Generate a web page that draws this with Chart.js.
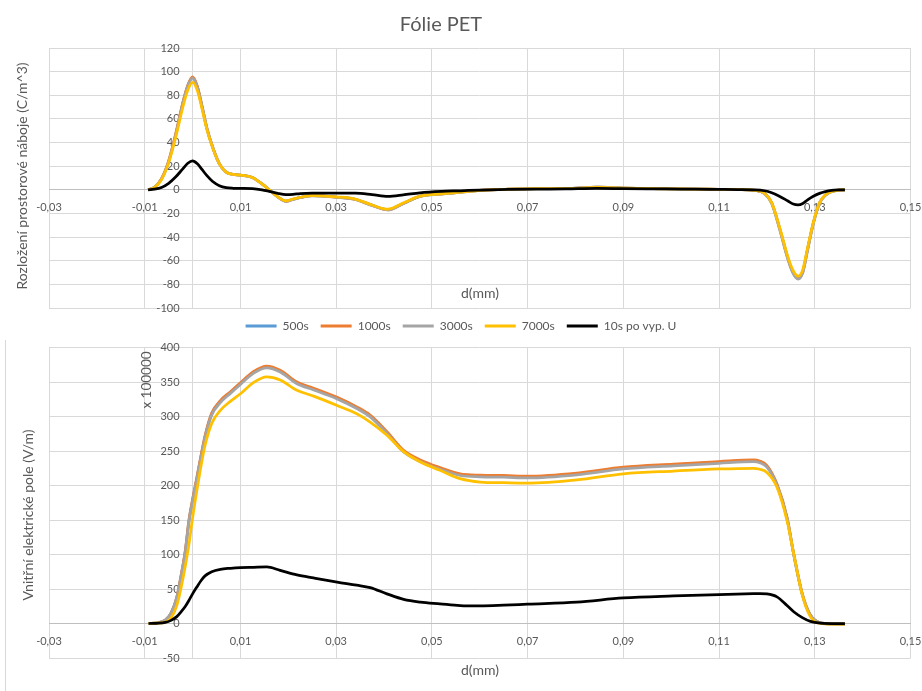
<!DOCTYPE html>
<html>
<head>
<meta charset="utf-8">
<title>Fólie PET</title>
<script src="https://cdn.jsdelivr.net/npm/chart.js@4/dist/chart.umd.min.js"></script>
<style>
  html, body { margin: 0; padding: 0; background: #ffffff; }
  #wrap { position: relative; width: 922px; height: 691px; overflow: hidden; background: #ffffff; }
  #wrap canvas { position: absolute; left: 0; }
  #rhoChart { top: 0; }
  #fieldChart { top: 340px; }
</style>
</head>
<body>
<div id="wrap">
  <canvas id="rhoChart" width="922" height="342"></canvas>
  <canvas id="fieldChart" width="922" height="351"></canvas>
</div>
<script>
// Series names and colours
const SERIES = ['500s', '1000s', '3000s', '7000s', '10s po vyp. U'];
const COLORS = ['#5B9BD5', '#ED7D31', '#A5A5A5', '#FFC000', '#000000'];

// Shared depth axis (mm)
const X_TICKS = [-0.03, -0.01, 0.01, 0.03, 0.05, 0.07, 0.09, 0.11, 0.13, 0.15];
const X_TICK_LABELS = ['-0,03', '-0,01', '0,01', '0,03', '0,05', '0,07', '0,09', '0,11', '0,13', '0,15'];

// Space charge density (C/m^3)
const RHO_TICKS = [-100, -80, -60, -40, -20, 0, 20, 40, 60, 80, 100, 120];
const RHO_X = [-0.0093, -0.008, -0.0065, -0.005, -0.0035, -0.002, -0.001, 0, 0.001, 0.002,
  0.003, 0.0042, 0.0056, 0.007, 0.0085, 0.01, 0.0125, 0.0145, 0.016, 0.0178,
  0.0195, 0.021, 0.0225, 0.025, 0.03, 0.034, 0.0375, 0.0408, 0.044, 0.0475,
  0.052, 0.056, 0.06, 0.066, 0.072, 0.078, 0.0845, 0.09, 0.096, 0.102,
  0.108, 0.114, 0.1175, 0.1195, 0.121, 0.1227, 0.1244, 0.1255, 0.1265, 0.1275,
  0.1285, 0.1297, 0.131, 0.1322, 0.1335, 0.135, 0.1363];
const RHO_500 = [0, 2, 9, 24, 47, 74, 88, 95, 87, 70,
  52, 36, 22, 15, 13, 12.5, 10.5, 5, 0, -6,
  -9.5, -8, -6.5, -5, -6.2, -8, -13, -16.7, -11.5, -5.5,
  -3.5, -2, -0.5, 0.5, 1, 1, 2.2, 1.5, 1, 0.8,
  0.5, 0.3, -0.5, -3, -11, -33, -58, -70, -74.5, -69,
  -50, -28, -11, -4.5, -1.5, -0.3, 0];
const RHO_1000 = [0, 2, 9.5, 24.5, 48, 74.5, 88.5, 95.5, 87.5, 70.5,
  52, 36, 22, 15, 13, 12.5, 10.5, 5, 0, -6,
  -9.7, -8, -6.5, -5, -6.2, -8.2, -13.2, -16.9, -11.6, -5.5,
  -3.5, -2, -0.5, 0.5, 1, 1, 2.2, 1.5, 1, 0.8,
  0.5, 0.3, -0.5, -3.1, -11.2, -33.5, -58.5, -70.5, -75, -69.5,
  -50.5, -28.2, -11.2, -4.6, -1.5, -0.3, 0];
const RHO_3000 = [0, 2, 9, 23.5, 46.5, 73.5, 87.5, 94.5, 86.5, 69.5,
  51.5, 35.8, 22, 15, 13, 12.4, 10.4, 5, 0, -6.2,
  -9.8, -8.2, -6.6, -5.1, -6.3, -8.2, -13.2, -17, -11.8, -5.6,
  -3.6, -2, -0.5, 0.5, 1, 1, 2.2, 1.5, 1, 0.8,
  0.5, 0.3, -0.5, -3.2, -11.5, -34, -59, -71, -75.5, -70,
  -51, -28.5, -11.3, -4.6, -1.5, -0.3, 0];
const RHO_7000 = [0, 1.8, 8.5, 23, 45, 70.5, 84.5, 91, 84, 68,
  51, 35.5, 22, 15, 13, 12.5, 10.5, 5, 0, -6,
  -9.3, -7.8, -6.3, -4.9, -6, -7.8, -12.8, -16.4, -11.2, -5.4,
  -3.4, -2, -0.5, 0.5, 1, 1, 2, 1.4, 1, 0.8,
  0.5, 0.3, -0.5, -2.9, -10.8, -32.5, -57, -68.5, -73, -67.5,
  -49, -27.5, -10.8, -4.4, -1.4, -0.3, 0];
const RHO_10S = [0, 0.5, 2, 5.5, 11, 18, 22.5, 24.5, 22, 17,
  12, 7, 3.5, 1.8, 1.3, 1.2, 1, 0, -1.3, -3,
  -4, -3.8, -3.2, -2.8, -2.8, -2.8, -4, -5.5, -4.3, -2.5,
  -1.3, -0.8, -0.2, 0.3, 0.6, 0.8, 1.2, 1, 0.8, 0.6,
  0.4, 0.2, 0, -0.8, -2.5, -5.6, -9.5, -12, -12.7, -11.5,
  -8.5, -5.5, -3, -1.5, -0.5, -0.1, 0];

// Internal electric field (x 100000 V/m)
const FIELD_TICKS = [-50, 0, 50, 100, 150, 200, 250, 300, 350, 400];
const FIELD_X = [-0.0092, -0.0075, -0.0057, -0.0045, -0.0033, -0.0024, -0.0015, -0.0008, 0, 0.0009,
  0.00175, 0.0026, 0.004, 0.0058, 0.0079, 0.01, 0.0127, 0.0155, 0.0183, 0.0218,
  0.0253, 0.0302, 0.0343, 0.0371, 0.0406, 0.0441, 0.0476, 0.0517, 0.0559, 0.0601,
  0.065, 0.07, 0.0803, 0.09, 0.1005, 0.11, 0.1172, 0.1185, 0.12, 0.1221,
  0.1242, 0.1256, 0.1274, 0.1291, 0.1312, 0.1335, 0.1363];
const FIELD_500 = [0, 1, 5, 15, 38, 69, 106, 147, 179, 211,
  242, 271, 304, 322, 335, 348, 364, 372, 366, 349,
  340, 327, 313, 301, 277, 250, 236, 225, 216, 214,
  213.5, 212.5, 217, 225.5, 230, 233.7, 236, 234.5, 228, 201,
  153, 100, 42, 12, 1, -0.5, -1];
const FIELD_1000 = [0, 1, 5, 15, 38, 70, 107, 148, 180, 212,
  243, 272, 305, 323, 336, 349, 365, 373, 367, 350,
  341, 328, 314, 302, 278, 251, 237, 226, 217, 215,
  214.5, 213.5, 218, 226.5, 231, 234.7, 237, 235.5, 229, 202,
  154, 101, 43, 12, 1, -0.5, -1];
const FIELD_3000 = [0, 1, 4.8, 14.5, 37, 68, 104, 145, 177, 209,
  240, 269, 302, 320, 333.5, 346.5, 362.5, 370.5, 364.5, 347.5,
  338.5, 325.5, 311.5, 299.5, 275.5, 248.5, 234.5, 223.5, 214.5, 212.5,
  212, 211, 215.5, 224, 228.5, 232.2, 234.5, 233, 226.5, 200,
  152, 100, 42, 11.5, 1, -0.5, -1];
const FIELD_7000 = [0, 0.5, 2, 8, 26, 52, 84, 113, 153, 193,
  228, 258, 290, 309, 322, 333, 349, 357.5, 353, 338,
  329.5, 316, 304, 292, 273, 249, 234, 222, 210, 205,
  204, 203.4, 208, 217, 221, 224, 225, 223.5, 219, 197.6,
  149, 101, 41, 9.6, 0, -0.8, -1];
const FIELD_10S = [0, 0.3, 1.5, 4.5, 10, 17, 25, 33, 43, 53,
  62, 69, 75, 78.5, 80, 81, 81.5, 82, 77, 70.5,
  66, 60, 55.5, 52, 43, 35, 31, 28.5, 26, 25.5,
  26.5, 28, 31, 37, 40, 42, 43.2, 43.3, 42.8, 38.6,
  26, 17, 8.5, 3, 0.5, 0, 0];

const TEXT_COLOR = '#595959';
const GRID_COLOR = '#D9D9D9';
const AXIS_COLOR = '#BFBFBF';
const FONT = "Lato, 'Open Sans', sans-serif";

Chart.defaults.font.family = FONT;
Chart.defaults.color = TEXT_COLOR;

function points(xs, ys) {
  return xs.map((x, i) => ({ x: x, y: ys[i] }));
}

function buildDatasets(xs, seriesValues) {
  return seriesValues.map((ys, i) => ({
    label: SERIES[i],
    data: points(xs, ys),
    xAxisID: 'x',
    yAxisID: 'y',
    borderColor: COLORS[i],
    backgroundColor: COLORS[i],
    borderWidth: 2.75,
    pointRadius: 0,
    pointHoverRadius: 0,
    fill: false,
    cubicInterpolationMode: 'monotone',
    // later series sit on top of earlier ones
    order: seriesValues.length - 1 - i
  }));
}

// Tick labels sit next to the axes that cross at zero
const tickText = {
  id: 'tickText',
  beforeDatasetsDraw(chart) {
    const xs = chart.scales.x;
    const ys = chart.scales.y;
    const ctx = chart.ctx;
    const x0 = xs.getPixelForValue(0);
    const y0 = ys.getPixelForValue(0);
    ctx.save();
    ctx.font = '11px ' + FONT;
    ctx.fillStyle = TEXT_COLOR;
    ctx.textAlign = 'center';
    ctx.textBaseline = 'top';
    xs.ticks.forEach((t, i) => {
      ctx.fillText(X_TICK_LABELS[i], xs.getPixelForValue(t.value), y0 + 12);
    });
    ctx.textAlign = 'right';
    ctx.textBaseline = 'middle';
    ys.ticks.forEach(t => {
      ctx.fillText(String(t.value), x0 - 13, ys.getPixelForValue(t.value));
    });
    ctx.restore();
  }
};

// Free text: titles, axis titles, unit label, chart border
const panelText = {
  id: 'panelText',
  beforeDraw(chart, args, opts) {
    if (opts.leftBorder) {
      const ctx = chart.ctx;
      ctx.save();
      ctx.strokeStyle = GRID_COLOR;
      ctx.lineWidth = 1;
      ctx.beginPath();
      ctx.moveTo(5.5, 0);
      ctx.lineTo(5.5, chart.height);
      ctx.stroke();
      ctx.restore();
    }
  },
  afterDraw(chart, args, opts) {
    const ctx = chart.ctx;
    (opts.items || []).forEach(t => {
      ctx.save();
      ctx.font = t.size + 'px ' + FONT;
      ctx.fillStyle = TEXT_COLOR;
      ctx.textAlign = 'center';
      ctx.textBaseline = 'middle';
      ctx.translate(t.x, t.y);
      if (t.vertical) ctx.rotate(-Math.PI / 2);
      ctx.fillText(t.text, 0, 0);
      ctx.restore();
    });
  }
};

function xScale() {
  return {
    type: 'linear',
    min: -0.03,
    max: 0.15,
    position: { y: 0 },
    afterBuildTicks: s => { s.ticks = X_TICKS.map(v => ({ value: v })); },
    ticks: { display: false, callback: (v, i) => X_TICK_LABELS[i] },
    grid: { color: GRID_COLOR, lineWidth: 1, drawTicks: false },
    border: { display: true, color: AXIS_COLOR, width: 1 }
  };
}

function yScale(min, max, tickValues) {
  return {
    type: 'linear',
    min: min,
    max: max,
    position: { x: 0 },
    afterBuildTicks: s => { s.ticks = tickValues.map(v => ({ value: v })); },
    ticks: { display: false },
    grid: { color: GRID_COLOR, lineWidth: 1, drawTicks: false },
    border: { display: true, color: GRID_COLOR, width: 1 }
  };
}

// Empty left gutter so the plot starts where the axis titles end
function gutter(width) {
  return {
    type: 'linear',
    position: 'left',
    display: true,
    min: 0,
    max: 1,
    ticks: { display: false },
    grid: { display: false, drawTicks: false },
    border: { display: false },
    afterFit: s => { s.width = width; }
  };
}

// Space charge distribution
new Chart(document.getElementById('rhoChart'), {
  type: 'line',
  data: { datasets: buildDatasets(RHO_X, [RHO_500, RHO_1000, RHO_3000, RHO_7000, RHO_10S]) },
  options: {
    responsive: false,
    animation: false,
    events: [],
    layout: { autoPadding: false, padding: { left: 11.5, right: 11.5, top: 48, bottom: 0 } },
    scales: { x: xScale(), y: yScale(-100, 120, RHO_TICKS), yGutter: gutter(37.5) },
    plugins: {
      title: { display: false },
      tooltip: { enabled: false },
      legend: {
        display: true,
        position: 'bottom',
        labels: {
          boxWidth: 31,
          boxHeight: 3,
          padding: 12,
          font: { size: 12 },
          color: TEXT_COLOR,
          generateLabels: chart => chart.data.datasets.map((ds, i) => ({
            text: ds.label,
            fillStyle: ds.borderColor,
            strokeStyle: ds.borderColor,
            lineWidth: 0,
            fontColor: TEXT_COLOR,
            hidden: !chart.isDatasetVisible(i),
            datasetIndex: i
          }))
        }
      },
      panelText: {
        items: [
          { text: 'Fólie PET', x: 441, y: 25, size: 20 },
          { text: 'Rozložení prostorové náboje (C/m^3)', x: 22, y: 176, size: 14, vertical: true },
          { text: 'd(mm)', x: 480, y: 293, size: 14 }
        ]
      }
    }
  },
  plugins: [tickText, panelText]
});

// Internal electric field
new Chart(document.getElementById('fieldChart'), {
  type: 'line',
  data: { datasets: buildDatasets(FIELD_X, [FIELD_500, FIELD_1000, FIELD_3000, FIELD_7000, FIELD_10S]) },
  options: {
    responsive: false,
    animation: false,
    events: [],
    layout: { autoPadding: false, padding: { left: 11.5, right: 11.5, top: 7.5, bottom: 33 } },
    scales: { x: xScale(), y: yScale(-50, 400, FIELD_TICKS), yGutter: gutter(37.5) },
    plugins: {
      title: { display: false },
      tooltip: { enabled: false },
      legend: { display: false },
      panelText: {
        leftBorder: true,
        items: [
          { text: 'Vnitřní elektrické pole (V/m)', x: 28, y: 175, size: 14, vertical: true },
          { text: 'x 100000', x: 147, y: 40, size: 13.5, vertical: true },
          { text: 'd(mm)', x: 480, y: 330.5, size: 14 }
        ]
      }
    }
  },
  plugins: [tickText, panelText]
});
</script>
</body>
</html>
